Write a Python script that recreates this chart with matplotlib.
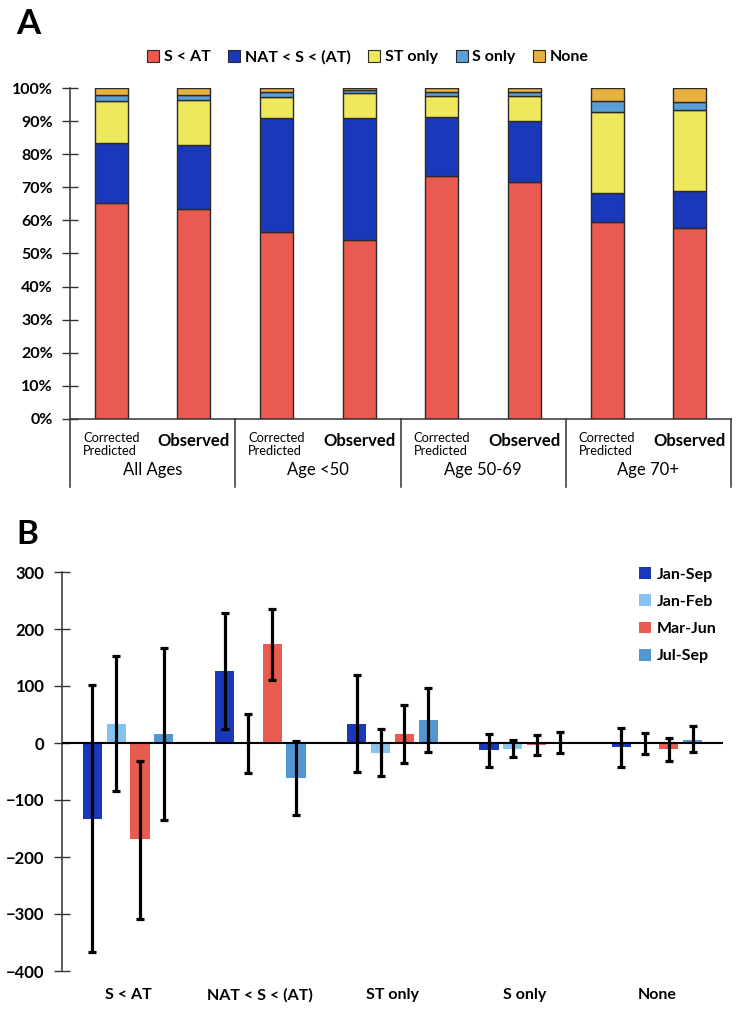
import numpy as np
import matplotlib
matplotlib.use("Agg")
import matplotlib.pyplot as plt
from matplotlib.patches import Patch
from matplotlib.ticker import PercentFormatter

plt.rcParams["font.family"] = ["Lato", "DejaVu Sans"]

# ---- panel A data (share of each outcome, %) ----
bar_labels = ["Corrected\nPredicted", "Observed"] * 4
groups = ["All Ages", "Age <50", "Age 50-69", "Age 70+"]
seg_names = ["S < AT", "NAT < S < (AT)", "ST only", "S only", "None"]
s_lt_at = [65.4, 63.3, 56.5, 54.0, 73.5, 71.5, 59.6, 57.7]
nat_s_at = [17.9, 19.5, 34.5, 37.0, 17.6, 18.5, 8.6, 11.1]
st_only = [12.7, 13.6, 6.2, 7.4, 6.6, 7.6, 24.7, 24.6]
s_only = [1.8, 1.5, 1.5, 1.1, 1.2, 1.2, 3.1, 2.3]
none_a = [2.2, 2.1, 1.3, 0.5, 1.1, 1.2, 4.0, 4.3]

# ---- panel B data ----
cats_b = ["S < AT", "NAT < S < (AT)", "ST only", "S only", "None"]
periods = ["Jan-Sep", "Jan-Feb", "Mar-Jun", "Jul-Sep"]
jan_sep = [-133, 126, 33, -12, -7]
jan_feb = [33, -1, -17, -10, -1]
mar_jun = [-169, 173, 16, -4, -10]
jul_sep = [15, -62, 40, 1, 5]
jan_sep_lo = [-367, 24, -51, -42, -42]
jan_sep_hi = [102, 228, 120, 15, 26]
jan_feb_lo = [-84, -53, -58, -25, -20]
jan_feb_hi = [152, 51, 25, 5, 17]
mar_jun_lo = [-308, 111, -35, -21, -32]
mar_jun_hi = [-31, 235, 66, 14, 9]
jul_sep_lo = [-135, -127, -16, -17, -15]
jul_sep_hi = [167, 3, 97, 20, 29]

seg_colors = ["#E95B50", "#1A38BA", "#EFE85C", "#5A9FD8", "#E8B03C"]
per_colors = ["#1A38BA", "#86C4F0", "#E95B50", "#5496D2"]

fig = plt.figure(figsize=(7.44, 10.13), dpi=100)
axc = "#333333"

# ================= Panel A =================
axA = fig.add_axes([70 / 744, 1 - 419 / 1013, 661 / 744, 331 / 1013])
x = np.arange(len(bar_labels))
segs = [s_lt_at, nat_s_at, st_only, s_only, none_a]
bottom = np.zeros(len(x))
for vals, col, name in zip(segs, seg_colors, seg_names):
    v = np.array(vals) / 100
    axA.bar(x, v, 0.4, bottom=bottom, color=col, edgecolor="#2a2a2a",
            linewidth=1.0, label=name)
    bottom += v

axA.set_xlim(-0.5, 7.5)
axA.set_ylim(0, 1)
axA.set_yticks(np.arange(0, 1.01, 0.1))
axA.yaxis.set_major_formatter(PercentFormatter(1.0, decimals=0))
axA.tick_params(axis="y", direction="inout", length=11, width=1, color=axc,
                labelsize=11.5, pad=7)
for lab in axA.get_yticklabels():
    lab.set_fontweight("bold")
axA.set_xticks([])
for s in ["top", "right"]:
    axA.spines[s].set_visible(False)
for s in ["left", "bottom"]:
    axA.spines[s].set_color(axc)
    axA.spines[s].set_linewidth(1.1)

tA = axA.get_xaxis_transform()
for i, lab in enumerate(bar_labels):
    if lab == "Observed":
        axA.text(i, -0.066, lab, transform=tA, ha="center", va="center",
                 fontsize=12, fontweight="bold")
    else:
        axA.text(i, -0.076, lab, transform=tA, ha="center", va="center",
                 fontsize=9.3, multialignment="left", linespacing=1.1)
for g, name in enumerate(groups):
    axA.text(2 * g + 0.5, -0.155, name, transform=tA, ha="center",
             va="center", fontsize=12)
for d in np.arange(-0.5, 8, 2):
    axA.plot([d, d], [0, -0.205], transform=tA, color=axc, lw=1.1,
             clip_on=False)

handles = [Patch(facecolor=c, edgecolor="#2a2a2a", linewidth=0.8, label=n)
           for c, n in zip(seg_colors, seg_names)]
fig.legend(handles=handles, loc="center", bbox_to_anchor=(368 / 744, 1 - 57 / 1013),
           ncol=5, frameon=False, handlelength=0.75, handleheight=0.75,
           handletextpad=0.3, columnspacing=1.1,
           prop={"size": 11.5, "weight": "bold"})

fig.text(16 / 744, 1 - 24 / 1013, "A", fontsize=25, fontweight="bold",
         ha="left", va="center")

# ================= Panel B =================
axB = fig.add_axes([62 / 744, 1 - 971 / 1013, 661 / 744, 399 / 1013])
xb = np.arange(len(cats_b))
vals_b = [jan_sep, jan_feb, mar_jun, jul_sep]
los = [jan_sep_lo, jan_feb_lo, mar_jun_lo, jul_sep_lo]
his = [jan_sep_hi, jan_feb_hi, mar_jun_hi, jul_sep_hi]
w = 0.18
for k, (vals, lo, hi, col, name) in enumerate(zip(vals_b, los, his, per_colors, periods)):
    pos = xb + (k - 1.5) * w
    v = np.array(vals)
    axB.bar(pos, v, 0.145, color=col, label=name, zorder=2)
    yerr = [v - np.array(lo), np.array(hi) - v]
    axB.errorbar(pos, v, yerr=yerr, fmt="none", ecolor="black",
                 elinewidth=2.3, capsize=2.6, capthick=2.3, zorder=3)

axB.axhline(0, color="black", lw=1.5, zorder=4)
axB.set_xlim(-0.5, 4.5)
axB.set_ylim(-400, 300)
axB.set_yticks(np.arange(-400, 301, 100))
axB.tick_params(axis="y", direction="inout", length=11, width=1, color=axc,
                labelsize=12, pad=7)
for lab in axB.get_yticklabels():
    lab.set_fontweight("bold")
axB.set_xticks([])
for s in ["top", "right", "bottom"]:
    axB.spines[s].set_visible(False)
axB.spines["left"].set_color(axc)
axB.spines["left"].set_linewidth(1.1)

tB = axB.get_xaxis_transform()
for i, c in enumerate(cats_b):
    axB.text(i, -0.06, c, transform=tB, ha="center", va="center",
             fontsize=11.5, fontweight="bold")

axB.legend(loc="upper right", bbox_to_anchor=(1.0, 1.028), frameon=False,
           handlelength=0.75, handleheight=0.75, handletextpad=0.35,
           labelspacing=0.8, borderaxespad=0,
           prop={"size": 11.5, "weight": "bold"})

fig.text(16 / 744, 1 - 535 / 1013, "B", fontsize=24, fontweight="bold",
         ha="left", va="center")

fig.savefig("out.png", dpi=100)
